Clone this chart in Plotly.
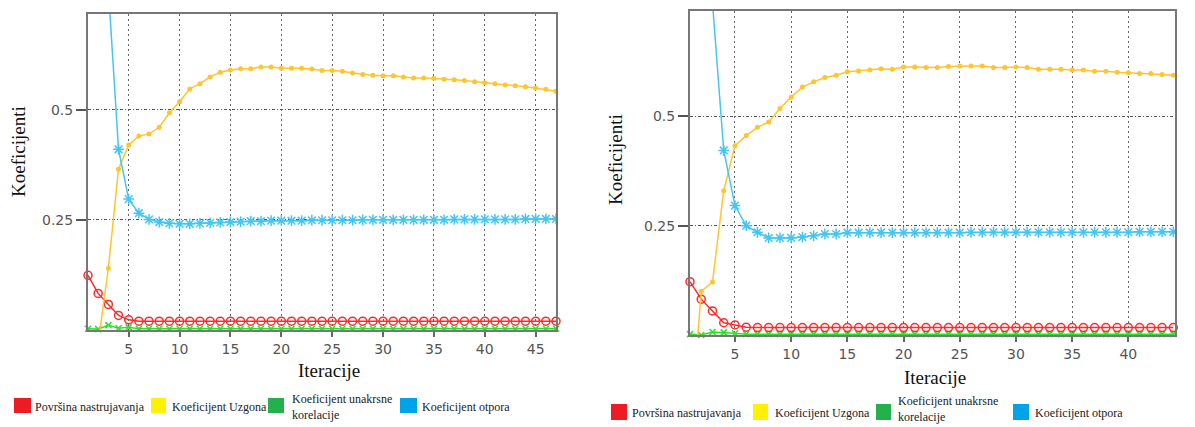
import plotly.graph_objects as go

# ---------------- data ----------------
iter_left = list(range(1, 48))
left_povrsina = [0.124, 0.083, 0.058, 0.033, 0.023, 0.020, 0.020, 0.020, 0.020, 0.020,
                 0.020, 0.020, 0.020, 0.020, 0.020, 0.020, 0.020, 0.020, 0.020, 0.020,
                 0.020, 0.020, 0.020, 0.020, 0.020, 0.020, 0.020, 0.020, 0.020, 0.020,
                 0.020, 0.020, 0.020, 0.020, 0.020, 0.020, 0.020, 0.020, 0.020, 0.020,
                 0.020, 0.020, 0.020, 0.020, 0.020, 0.020, 0.020]
left_uzgon = [-0.05, -0.03, 0.14, 0.365, 0.42, 0.44, 0.445, 0.46, 0.493, 0.518,
              0.547, 0.559, 0.574, 0.585, 0.590, 0.593, 0.593, 0.597, 0.597, 0.594,
              0.594, 0.594, 0.592, 0.589, 0.589, 0.587, 0.583, 0.580, 0.578, 0.577,
              0.577, 0.574, 0.572, 0.572, 0.571, 0.569, 0.568, 0.566, 0.563, 0.561,
              0.559, 0.556, 0.554, 0.552, 0.549, 0.546, 0.542]
left_korelacija = [0.003, 0.002, 0.011, 0.004, 0.006, 0.003, 0.003, 0.003, 0.003, 0.003,
                   0.003, 0.003, 0.003, 0.003, 0.003, 0.003, 0.003, 0.003, 0.003, 0.003,
                   0.003, 0.003, 0.003, 0.003, 0.003, 0.003, 0.003, 0.003, 0.003, 0.003,
                   0.003, 0.003, 0.003, 0.003, 0.003, 0.003, 0.003, 0.003, 0.003, 0.003,
                   0.003, 0.003, 0.003, 0.003, 0.003, 0.003, 0.003]
left_otpor = [2.0, 1.3, 0.775, 0.41, 0.297, 0.265, 0.251, 0.245, 0.242, 0.241,
              0.241, 0.242, 0.243, 0.244, 0.245, 0.246, 0.247, 0.247, 0.248, 0.248,
              0.248, 0.248, 0.249, 0.249, 0.249, 0.249, 0.249, 0.250, 0.250, 0.250,
              0.250, 0.250, 0.250, 0.250, 0.250, 0.250, 0.251, 0.251, 0.251, 0.251,
              0.251, 0.251, 0.251, 0.252, 0.252, 0.252, 0.252]

iter_right = list(range(1, 45))
right_povrsina = [0.122, 0.082, 0.055, 0.028, 0.023, 0.018, 0.017, 0.017, 0.017, 0.017,
                  0.017, 0.017, 0.017, 0.017, 0.017, 0.017, 0.017, 0.017, 0.017, 0.017,
                  0.017, 0.017, 0.017, 0.017, 0.017, 0.017, 0.017, 0.017, 0.017, 0.017,
                  0.017, 0.017, 0.017, 0.017, 0.017, 0.017, 0.017, 0.017, 0.017, 0.017,
                  0.017, 0.017, 0.017, 0.017]
right_uzgon = [-0.23, 0.10, 0.121, 0.33, 0.433, 0.456, 0.475, 0.487, 0.518, 0.544,
               0.567, 0.579, 0.589, 0.594, 0.602, 0.604, 0.606, 0.609, 0.608, 0.613,
               0.613, 0.612, 0.612, 0.614, 0.615, 0.615, 0.615, 0.612, 0.612, 0.613,
               0.612, 0.608, 0.608, 0.608, 0.606, 0.606, 0.603, 0.603, 0.601, 0.600,
               0.598, 0.598, 0.596, 0.594]
right_korelacija = [0.002, 0.000, 0.007, 0.006, 0.004, 0.002, 0.002, 0.002, 0.002, 0.002,
                    0.002, 0.002, 0.002, 0.002, 0.002, 0.002, 0.002, 0.002, 0.002, 0.002,
                    0.002, 0.002, 0.002, 0.002, 0.002, 0.002, 0.002, 0.002, 0.002, 0.002,
                    0.002, 0.002, 0.002, 0.002, 0.002, 0.002, 0.002, 0.002, 0.002, 0.002,
                    0.002, 0.002, 0.002, 0.002]
right_otpor = [2.0, 1.2, 0.76, 0.422, 0.296, 0.25, 0.235, 0.222, 0.222, 0.222,
               0.224, 0.227, 0.231, 0.231, 0.234, 0.234, 0.234, 0.234, 0.234, 0.234,
               0.234, 0.234, 0.234, 0.234, 0.234, 0.235, 0.235, 0.235, 0.235, 0.235,
               0.235, 0.235, 0.235, 0.235, 0.235, 0.235, 0.235, 0.235, 0.235, 0.235,
               0.236, 0.236, 0.236, 0.236]

x_ticks = [5, 10, 15, 20, 25, 30, 35, 40, 45]
y_ticks = [0.25, 0.5]
y_ticktext = ["0.25", "0.5"]

legend_names = ["Površina nastrujavanja", "Koeficijent Uzgona",
                "Koeficijent unakrsne<br>korelacije", "Koeficijent otpora"]
legend_colors = ["#ED1C24", "#FFF200", "#22B14C", "#00A2E8"]

x_title = "Iteracije"
y_title = "Koeficijenti"

# ---------------- styles ----------------
RED = "#ff2a2a"
YEL = "#ffc42e"
GRN = "#2ee02e"
BLU = "#45c6f2"

OFF = 8  # page body margin
W, H = 1195 - OFF, 427 - OFF


def px(x):
    return (x - OFF) / W


def py(y):
    return 1 - (y - OFF) / H


fig = go.Figure()


def add_series(xs, red, yel, grn, blu, xa, ya):
    fig.add_trace(go.Scatter(x=xs, y=grn, xaxis=xa, yaxis=ya, mode="lines+markers",
                             line=dict(color=GRN, width=1.5), cliponaxis=False,
                             marker=dict(symbol="x-thin-open", size=6, color=GRN,
                                         line=dict(width=1.5, color=GRN)),
                             showlegend=False))
    fig.add_trace(go.Scatter(x=xs, y=red, xaxis=xa, yaxis=ya, mode="lines+markers",
                             line=dict(color=RED, width=1.5), cliponaxis=False,
                             marker=dict(symbol="circle-open", size=8, color=RED,
                                         line=dict(width=1.5, color=RED)),
                             showlegend=False))
    fig.add_trace(go.Scatter(x=xs, y=yel, xaxis=xa, yaxis=ya, mode="lines+markers",
                             line=dict(color=YEL, width=1.5),
                             marker=dict(symbol="circle", size=5, color=YEL),
                             showlegend=False))
    fig.add_trace(go.Scatter(x=xs, y=blu, xaxis=xa, yaxis=ya, mode="lines+markers",
                             line=dict(color=BLU, width=1.5),
                             marker=dict(symbol="asterisk-open", size=9, color=BLU,
                                         line=dict(width=1.5, color=BLU)),
                             showlegend=False))


add_series(iter_left, left_povrsina, left_uzgon, left_korelacija, left_otpor, "x", "y")
add_series(iter_right, right_povrsina, right_uzgon, right_korelacija, right_otpor, "x2", "y2")

tickfont = dict(family="DejaVu Sans", size=14, color="#555555")

xcommon = dict(tickvals=x_ticks, showgrid=True, gridcolor="#666666", griddash="2px,3px",
               gridwidth=1, ticks="outside", ticklen=5, tickwidth=2, tickcolor="#666666",
               showline=True, mirror=True, linecolor="#777777", linewidth=2,
               zeroline=False, tickfont=tickfont)
ycommon = dict(tickvals=y_ticks, ticktext=y_ticktext, showgrid=True, gridcolor="#555555",
               griddash="3px,2px,1px,2px", gridwidth=1, ticks="outside", ticklen=10,
               tickwidth=2, tickcolor="#555555", showline=True, mirror=True,
               linecolor="#777777", linewidth=2, zeroline=False, tickfont=tickfont)

fig.update_layout(
    width=W, height=H, margin=dict(l=0, r=0, t=0, b=0),
    paper_bgcolor="white", plot_bgcolor="white",
    xaxis=dict(domain=[px(88), px(556)], anchor="y", range=[1, 47], **xcommon),
    yaxis=dict(domain=[py(330), py(14)], anchor="x", range=[0, 0.717], **ycommon),
    xaxis2=dict(domain=[px(690), px(1175)], anchor="y2", range=[1, 44.15], **xcommon),
    yaxis2=dict(domain=[py(335), py(11)], anchor="x2", range=[0, 0.741], **ycommon),
)

title_font = dict(family="Liberation Serif", size=19, color="#111111")
annotations = [
    dict(text=y_title, x=px(18), y=py(152), textangle=-90, font=title_font),
    dict(text=x_title, x=px(329), y=py(370), font=title_font),
    dict(text=y_title, x=px(615), y=py(159), textangle=-90, font=title_font),
    dict(text=x_title, x=px(935), y=py(377), font=title_font),
]
for a in annotations:
    a.update(xref="paper", yref="paper", showarrow=False, xanchor="center", yanchor="middle")

shapes = []
leg_font = dict(family="Liberation Serif", size=12, color="#222222")
left_sq = [(14, 31), (151, 166), (268, 284), (400, 417)]
left_tx = [33, 170, 290, 420]
right_sq = [(611, 627), (753, 768), (876, 891), (1013, 1029)]
right_tx = [630, 773, 896, 1033]
for sq, tx, (y0, y1) in [(left_sq, left_tx, (398, 413)), (right_sq, right_tx, (404, 420))]:
    for (x0, x1), t, name, col in zip(sq, tx, legend_names, legend_colors):
        shapes.append(dict(type="rect", xref="paper", yref="paper",
                           x0=px(x0), x1=px(x1), y0=py(y1), y1=py(y0),
                           fillcolor=col, line=dict(width=0)))
        yc = (y0 + y1) / 2 + 1
        if "<br>" in name:
            yc = min(yc, 409)
        annotations.append(dict(text=name, x=px(t), y=py(yc),
                                xref="paper", yref="paper", showarrow=False,
                                xanchor="left", yanchor="middle", align="left",
                                font=leg_font))

fig.update_layout(annotations=annotations, shapes=shapes)
fig.write_html("out.html")
